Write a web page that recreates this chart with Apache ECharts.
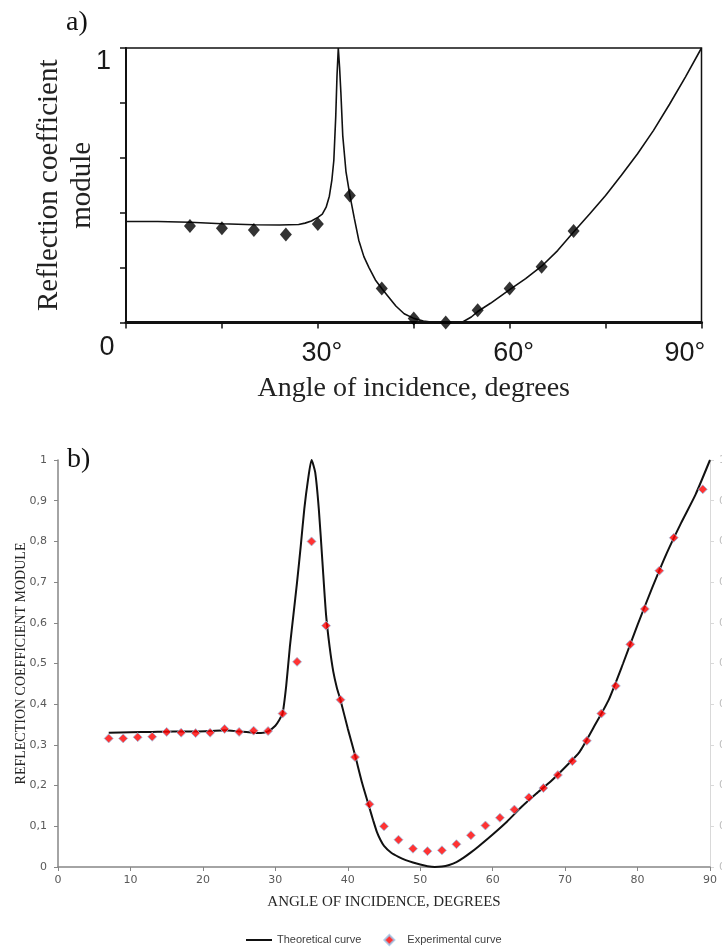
<!DOCTYPE html>
<html>
<head>
<meta charset="utf-8">
<script src="https://cdn.jsdelivr.net/npm/echarts@6/dist/echarts.min.js"></script>
<style>html,body{margin:0;padding:0;background:#fff}#c{width:722px;height:947px}</style>
</head>
<body>
<div id="c"></div>
<script>
// ---- Panel a) ----
var aCurveAngle = [0,5,10,15,20,24,27,28,29,30,30.7,31.3,31.8,32.2,32.5,32.8,33.0,33.2,33.4,33.6,33.9,34.4,35,35.7,36.4,37.2,38,39,40,41,42.2,43.5,45,46.5,48,50,52.5,54,55,57,60,62.5,65,67.5,70,72.5,75,77.5,80,82.5,85,87.5,90];
var aCurveValue = [0.368,0.368,0.365,0.36,0.356,0.355,0.357,0.362,0.37,0.383,0.395,0.42,0.46,0.52,0.59,0.75,0.9,1.0,0.93,0.84,0.68,0.55,0.465,0.38,0.30,0.24,0.2,0.155,0.124,0.095,0.06,0.032,0.015,0.005,0.001,0,0,0.02,0.04,0.07,0.12,0.16,0.205,0.262,0.33,0.395,0.463,0.537,0.615,0.70,0.795,0.895,1.0];
var aPointAngle = [10,15,20,25,30,35,40,45,50,55,60,65,70];
var aPointValue = [0.352,0.343,0.337,0.321,0.359,0.463,0.124,0.015,0,0.045,0.124,0.203,0.333];
var aXTickLabels = {0:'0',30:'30°',60:'60°',90:'90°'};
var aYTickLabels = {1:'1'};

// ---- Panel b) ----
var bCurveAngle = [7,10,13,16,19,21,23,25,27,28,29,30,30.5,31,31.5,32,32.5,33,33.5,34,34.5,35,35.5,36,36.5,37,37.5,38,38.5,39,40,41,42,43,43.5,44,44.5,45,46,47,48,49,50,51,52,53,54,55,56,57,58,60,62,64,66,68,70,72,74,76,78,80,82,84,86,88,90];
var bCurveValue = [0.330,0.331,0.332,0.333,0.333,0.334,0.336,0.333,0.330,0.329,0.333,0.347,0.36,0.377,0.445,0.54,0.62,0.70,0.787,0.88,0.95,1.0,0.97,0.88,0.75,0.62,0.54,0.48,0.44,0.41,0.34,0.275,0.205,0.145,0.115,0.087,0.067,0.052,0.035,0.025,0.017,0.011,0.006,0.002,0,0.001,0.005,0.012,0.023,0.036,0.05,0.08,0.112,0.148,0.18,0.21,0.245,0.283,0.345,0.41,0.50,0.595,0.685,0.77,0.845,0.915,1.0];
var bPointAngle = [7,9,11,13,15,17,19,21,23,25,27,29,31,33,35,37,39,41,43,45,47,49,51,53,55,57,59,61,63,65,67,69,71,73,75,77,79,81,83,85,89];
var bPointValue = [0.316,0.316,0.319,0.320,0.332,0.330,0.329,0.330,0.339,0.332,0.335,0.334,0.377,0.504,0.800,0.593,0.411,0.270,0.154,0.100,0.067,0.045,0.039,0.041,0.056,0.078,0.102,0.121,0.141,0.171,0.194,0.226,0.260,0.310,0.377,0.445,0.547,0.634,0.728,0.809,0.928];

function zip(xs, ys){ return xs.map(function(x,i){ return [x, ys[i]]; }); }

var chart = echarts.init(document.getElementById('c'), null, {renderer:'canvas'});
var serif = 'Liberation Serif';
var option = {
  animation: false,
  backgroundColor: '#fff',
  graphic: [
    {type:'text', left: 66, top: 9, style:{text:'a)', font:'28px "Liberation Serif"', fill:'#111'}},
    {type:'text', left: 67, top: 446, style:{text:'b)', font:'28px "Liberation Serif"', fill:'#111'}}
  ],
  grid: [
    {left:126, top:48, width:575.5, height:274.5, show:true, borderColor:'#111', borderWidth:1.5, backgroundColor:'transparent', outerBoundsMode:'none', containLabel:false},
    {left:58, top:460, width:652, height:407, outerBoundsMode:'none', containLabel:false}
  ],
  xAxis: [
    {gridIndex:0, type:'value', min:0, max:90, interval:15,
     axisLine:{show:true, lineStyle:{color:'#111', width:3}},
     axisTick:{show:true, inside:false, length:6, lineStyle:{color:'#111', width:1.5}},
     splitLine:{show:false},
     axisLabel:{margin:12, color:'#1a1a1a', fontFamily:'Liberation Sans', fontSize:27,
       formatter:function(v){
         var t = aXTickLabels[v];
         if (t === undefined) return '';
         if (v === 0) return '{z|' + t + '}';
         if (v === 90) return '{e|' + t + '}';
         return '{m|' + t + '}';
       },
       rich:{
         z:{fontFamily:'Liberation Sans', fontSize:27, color:'#1a1a1a', padding:[0,38,6,0]},
         m:{fontFamily:'Liberation Sans', fontSize:27, color:'#1a1a1a', padding:[6,0,0,8]},
         e:{fontFamily:'Liberation Sans', fontSize:27, color:'#1a1a1a', padding:[6,33,0,0]}
       }},
     name:'Angle of incidence, degrees', nameLocation:'middle', nameGap:52,
     nameTextStyle:{fontFamily:serif, fontSize:28, color:'#222'}},
    {gridIndex:1, type:'value', min:0, max:90, interval:10,
     axisLine:{show:true, lineStyle:{color:'#868686', width:1.5}},
     axisTick:{show:true, inside:false, length:4, lineStyle:{color:'#868686'}},
     splitLine:{show:false},
     axisLabel:{margin:8, color:'#595959', fontFamily:'DejaVu Sans', fontSize:11},
     name:'ANGLE OF INCIDENCE, DEGREES', nameLocation:'middle', nameGap:28,
     nameTextStyle:{fontFamily:serif, fontSize:15, color:'#262626'}}
  ],
  yAxis: [
    {gridIndex:0, type:'value', min:0, max:1, interval:0.2,
     axisLine:{show:true, lineStyle:{color:'#111', width:2}},
     axisTick:{show:true, inside:false, length:6, lineStyle:{color:'#111', width:1.5}},
     splitLine:{show:false},
     axisLabel:{margin:15, color:'#1a1a1a', fontFamily:'Liberation Sans', fontSize:27, verticalAlign:'top',
       formatter:function(v){ var t = aYTickLabels[v]; return t === undefined ? '' : t; }},
     name:'Reflection coefficient\nmodule', nameLocation:'middle', nameRotate:90, nameGap:27, nameMoveOverlap:false,
     nameTextStyle:{fontFamily:serif, fontSize:29, lineHeight:33, color:'#222'}},
    {gridIndex:1, type:'value', min:0, max:1, interval:0.1,
     axisLine:{show:true, lineStyle:{color:'#868686', width:1.5}},
     axisTick:{show:true, inside:false, length:4, lineStyle:{color:'#868686'}},
     splitLine:{show:false},
     axisLabel:{margin:11, color:'#595959', fontFamily:'DejaVu Sans', fontSize:11,
       formatter:function(v){ return String(+v.toFixed(1)).replace('.', ','); }},
     name:'REFLECTION COEFFICIENT MODULE', nameLocation:'middle', nameRotate:90, nameGap:30, nameMoveOverlap:false,
     nameTextStyle:{fontFamily:serif, fontSize:14, color:'#262626'}},
    {gridIndex:1, type:'value', position:'right', min:0, max:1, interval:0.1,
     axisLine:{show:true, lineStyle:{color:'#d9d9d9', width:1}},
     axisTick:{show:true, inside:false, length:4, lineStyle:{color:'#d9d9d9'}},
     splitLine:{show:false},
     axisLabel:{margin:9, color:'#bfbfbf', fontFamily:'DejaVu Sans', fontSize:11,
       formatter:function(v){ return String(+v.toFixed(1)).replace('.', ','); }}}
  ],
  legend: {
    data:[
      {name:'Theoretical curve', icon:'path://M0 0H26V2H0Z'},
      {name:'Experimental curve', icon:'path://M5 0L10 5L5 10L0 5Z'}
    ],
    left:241, top:929, itemWidth:26, itemHeight:10, itemGap:22, symbolKeepAspect:true,
    textStyle:{fontFamily:'Liberation Sans', fontSize:11, color:'#404040'}
  },
  series: [
    {name:'a theory', type:'line', xAxisIndex:0, yAxisIndex:0, data:zip(aCurveAngle, aCurveValue),
     symbol:'none', lineStyle:{color:'#111', width:1.6}, z:3},
    {name:'a experiment', type:'scatter', xAxisIndex:0, yAxisIndex:0, data:zip(aPointAngle, aPointValue),
     symbol:'diamond', symbolSize:[12,14], itemStyle:{color:'#000'}, z:4},
    {name:'Theoretical curve', type:'line', xAxisIndex:1, yAxisIndex:1, data:zip(bCurveAngle, bCurveValue),
     symbol:'none', smooth:0.2, lineStyle:{color:'#111', width:2}, itemStyle:{color:'#111'}, z:3},
    {name:'Experimental curve', type:'scatter', xAxisIndex:1, yAxisIndex:1, data:zip(bPointAngle, bPointValue),
     symbol:'diamond', symbolSize:9, itemStyle:{color:'#ff0000', borderColor:'#9dc3e6', borderWidth:1}, z:4}
  ]
};
chart.setOption(option);
</script>
</body>
</html>
